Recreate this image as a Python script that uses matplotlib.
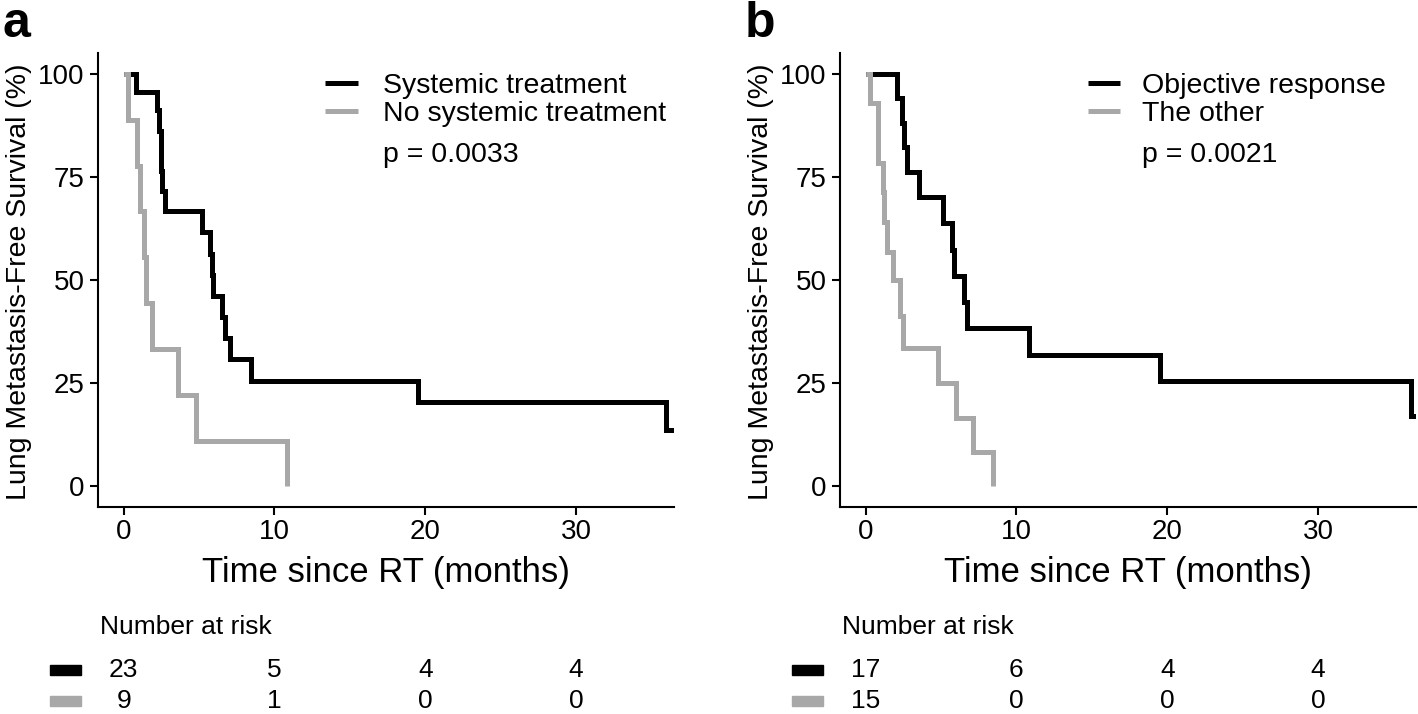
import matplotlib
matplotlib.use("Agg")
import matplotlib.pyplot as plt
from matplotlib.lines import Line2D
from matplotlib.patches import Rectangle
from matplotlib.transforms import blended_transform_factory

plt.rcParams["font.family"] = ["Liberation Sans", "DejaVu Sans"]

BLACK = "#000000"
GREY = "#A8A8A8"

# panel a: systemic treatment vs none (months, survival %)
a_sys_t = [0, 0.8, 2.2, 2.35, 2.45, 2.55, 2.75, 5.2, 5.75, 5.85, 5.95, 6.5, 6.75, 7.05, 8.45, 19.5, 36.0, 36.5]
a_sys_s = [100, 95.7, 91.3, 86.2, 76.5, 71.6, 66.7, 61.6, 56.4, 51.3, 46.2, 41.0, 35.9, 30.8, 25.6, 20.5, 13.7, 13.7]
a_no_t = [0, 0.3, 0.88, 1.1, 1.33, 1.5, 1.87, 3.62, 4.8, 10.85]
a_no_s = [100, 88.9, 77.8, 66.7, 55.6, 44.4, 33.3, 22.2, 11.1, 0]

# panel b: objective response vs the other
b_obj_t = [0, 2.1, 2.4, 2.52, 2.75, 3.55, 5.15, 5.7, 5.85, 6.5, 6.75, 10.85, 19.5, 36.15, 36.5]
b_obj_s = [100, 94.1, 88.2, 82.2, 76.3, 70.1, 63.9, 57.4, 51.0, 44.6, 38.3, 31.9, 25.5, 17.0, 17.0]
b_oth_t = [0, 0.27, 0.8, 1.15, 1.25, 1.45, 1.8, 2.25, 2.45, 4.8, 5.97, 7.15, 8.47]
b_oth_s = [100, 92.9, 78.4, 71.5, 64.2, 56.9, 50.1, 41.2, 33.5, 25.0, 16.7, 8.3, 0]

risk_times = [0, 10, 20, 30]
a_risk_sys = [23, 5, 4, 4]
a_risk_no = [9, 1, 0, 0]
b_risk_obj = [17, 6, 4, 4]
b_risk_oth = [15, 0, 0, 0]

a_labels = ["Systemic treatment", "No systemic treatment"]
b_labels = ["Objective response", "The other"]
a_pval = "p = 0.0033"
b_pval = "p = 0.0021"

W, H = 1418, 714
fig = plt.figure(figsize=(W / 100, H / 100), dpi=100)


def fx(px):
    return px / W


def fy(py):
    return 1 - py / H


def make_panel(left_px, letter, curves, labels, pval, leg, risks):
    ax = fig.add_axes([fx(left_px), fy(507), 576 / W, (507 - 53.4) / H])
    for (t, s), col in zip(curves, [BLACK, GREY]):
        ax.step(t, s, where="post", color=col, lw=3.6,
                solid_joinstyle="miter", solid_capstyle="butt")
    ax.set_xlim(-1.7, 36.5)
    ax.set_ylim(-5, 105)
    ax.set_xticks(risk_times)
    ax.set_yticks([0, 25, 50, 75, 100])
    for side in ["top", "right"]:
        ax.spines[side].set_visible(False)
    for side in ["left", "bottom"]:
        ax.spines[side].set_linewidth(1.5)
    ax.tick_params(axis="both", length=5.5, width=1.5, labelsize=20)
    ax.tick_params(axis="y", pad=4)
    ax.tick_params(axis="x", pad=3)

    # legend + p value
    lx0, lx1, tx = leg
    for y_line, y_base, col, lab in [(0.934, 0.912, BLACK, labels[0]),
                                     (0.874, 0.852, GREY, labels[1])]:
        ax.add_line(Line2D([lx0, lx1], [y_line, y_line], transform=ax.transAxes,
                           color=col, lw=3.6, solid_capstyle="butt", clip_on=False))
        ax.text(tx, y_base, lab, transform=ax.transAxes, fontsize=20.5, va="baseline")
    ax.text(tx, 0.761, pval, transform=ax.transAxes, fontsize=20.5, va="baseline")

    # labels
    fig.text(fx(left_px - 95), fy(37), letter, fontsize=36, fontweight="bold", va="baseline")
    fig.text(fx(left_px - 79), fy(282), "Lung Metastasis-Free Survival (%)",
             rotation=90, ha="center", va="center", fontsize=20.5)
    fig.text(fx(left_px + 288), fy(582), "Time since RT (months)",
             ha="center", va="baseline", fontsize=25)

    # number at risk table
    fig.text(fx(left_px + 2), fy(627), "Number at risk", fontsize=19, va="center")
    tr = blended_transform_factory(ax.transData, fig.transFigure)
    for row_y, col, vals in [(670, BLACK, risks[0]), (701, GREY, risks[1])]:
        fig.patches.append(Rectangle((fx(left_px - 48), fy(row_y + 5)), 31 / W, 10 / H,
                                     transform=fig.transFigure, color=col))
        for t, v in zip(risk_times, vals):
            fig.text(t, fy(row_y), str(v), transform=tr, ha="center", va="center",
                     fontsize=19)
    return ax


make_panel(98, "a", [(a_sys_t, a_sys_s), (a_no_t, a_no_s)], a_labels, a_pval,
           (0.394, 0.451, 0.495), (a_risk_sys, a_risk_no))
make_panel(840, "b", [(b_obj_t, b_obj_s), (b_oth_t, b_oth_s)], b_labels, b_pval,
           (0.431, 0.486, 0.524), (b_risk_obj, b_risk_oth))

fig.savefig("out.png", dpi=100)
